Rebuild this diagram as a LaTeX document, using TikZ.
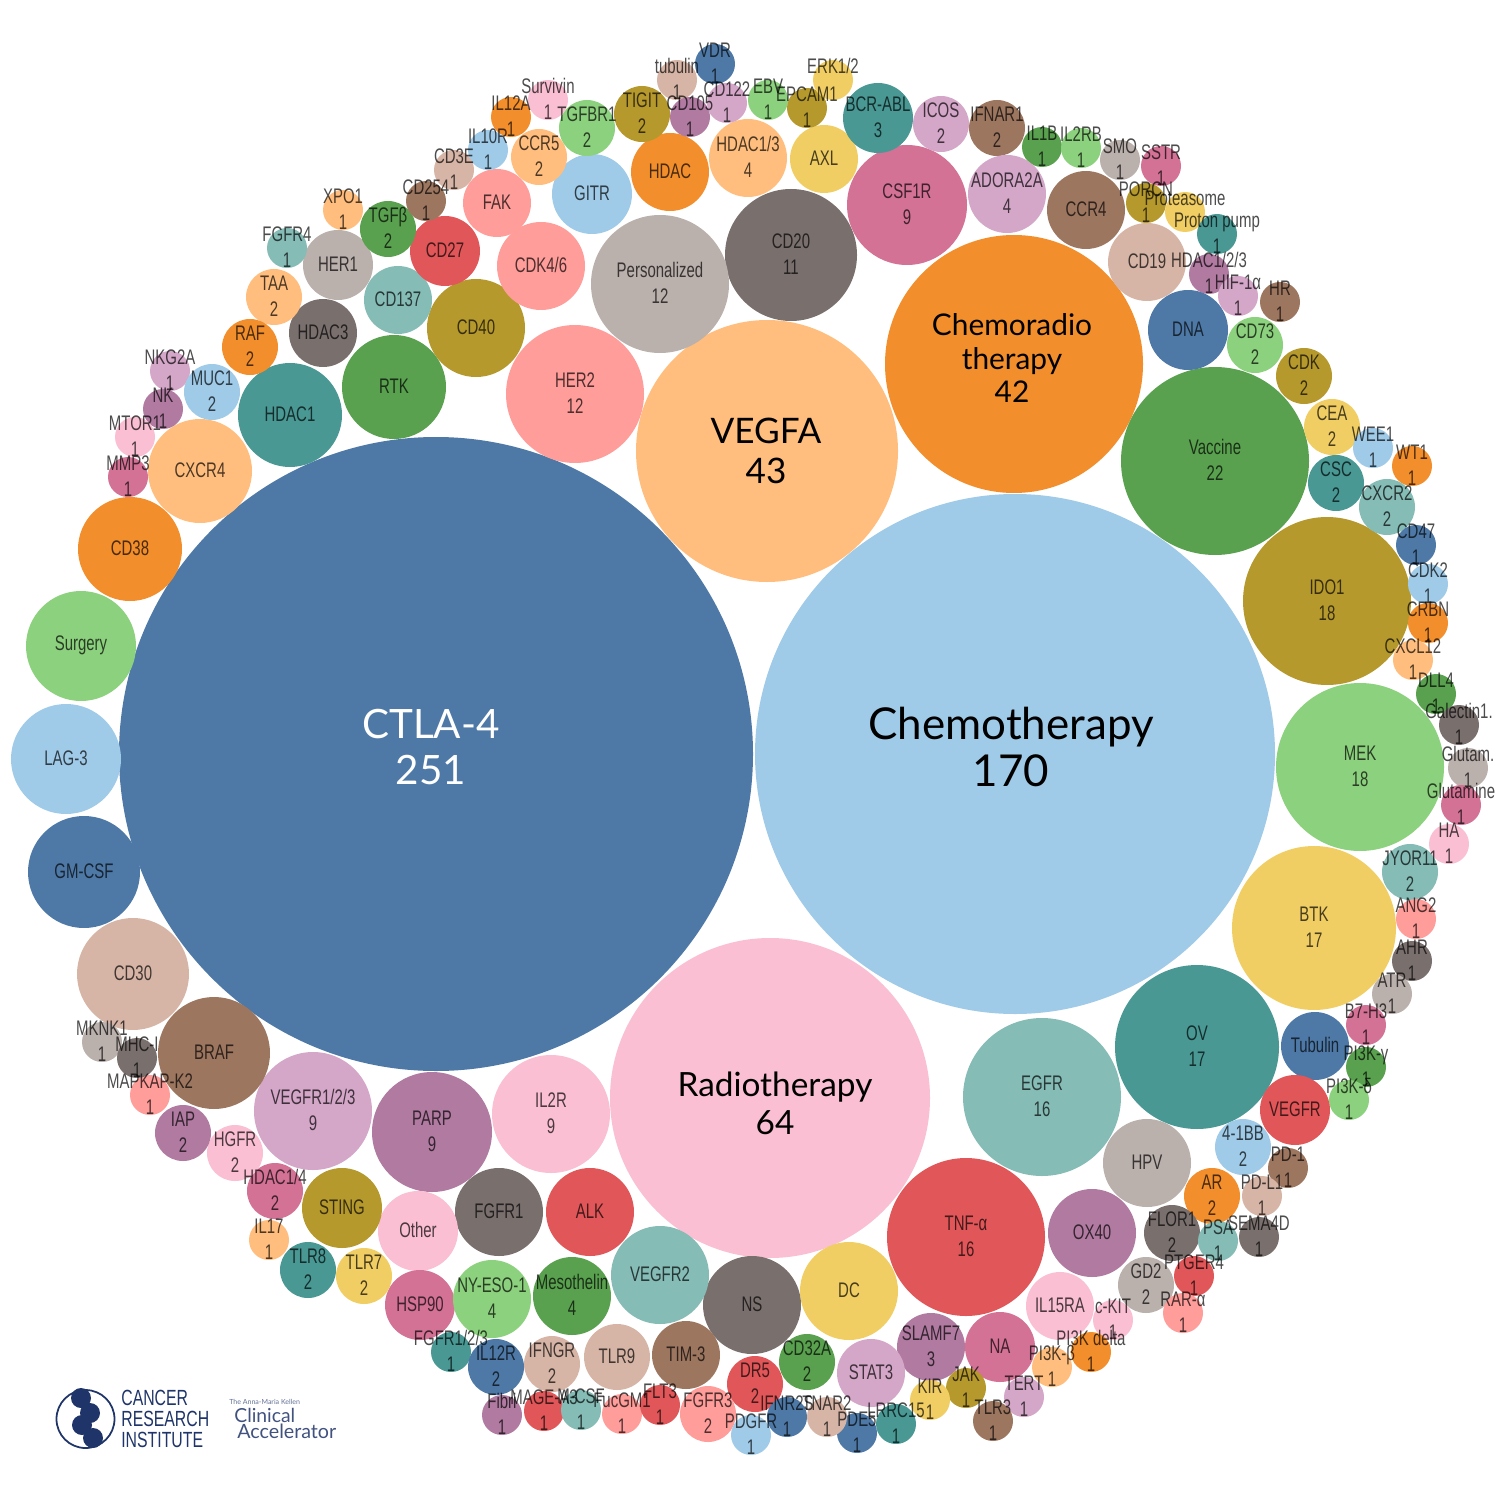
\documentclass[tikz,border=0pt]{standalone}
\usepackage{fontspec}
\setmainfont[FakeStretch=0.71]{Liberation Sans}
\newfontfamily\bigfont{Lato}
\newfontfamily\logofont[FakeStretch=0.72]{Liberation Sans}
\usepackage{tikz}

\definecolor{blue}{HTML}{4E79A7}
\definecolor{ltblue}{HTML}{A0CBE8}
\definecolor{orange}{HTML}{F28E2B}
\definecolor{ltorange}{HTML}{FFBE7D}
\definecolor{green}{HTML}{59A14F}
\definecolor{ltgreen}{HTML}{8CD17D}
\definecolor{olive}{HTML}{B6992D}
\definecolor{yellow}{HTML}{F1CE63}
\definecolor{teal}{HTML}{499894}
\definecolor{ltteal}{HTML}{86BCB6}
\definecolor{red}{HTML}{E15759}
\definecolor{pink}{HTML}{FF9D9A}
\definecolor{grey}{HTML}{79706E}
\definecolor{ltgrey}{HTML}{BAB0AC}
\definecolor{mauve}{HTML}{D37295}
\definecolor{ltmauve}{HTML}{FABFD2}
\definecolor{purple}{HTML}{B07AA1}
\definecolor{ltpurple}{HTML}{D4A6C8}
\definecolor{brown}{HTML}{9D7660}
\definecolor{ltbrown}{HTML}{D7B5A6}
\definecolor{navy}{HTML}{1F3468}

\tikzset{
    lab/.style={font=\fontsize{12}{14.8}\selectfont,align=center,inner sep=0pt,text=black,text opacity=0.7},
    biglab/.style={align=center,inner sep=0pt},
    logotext/.style={font=\logofont\fontsize{12.5}{11.8}\selectfont,align=left,inner sep=0pt,text=navy}
}

% first pass draws the discs, second pass the labels on top of them
\def\bubdisc(#1,#2,#3,#4)#5{\path[fill=#4] (#1,#2) circle (#3);}
\def\bublabel(#1,#2,#3,#4)#5{\node[lab] (lab#1-#2) at (#1,#2-1) {#5};}

\def\bubbles{
    \bub(1215,461,94,green){Vaccine\\22} \bub(1327,601,84,olive){IDO1\\18} \bub(1360,767,84,ltgreen){MEK\\18}
    \bub(1314,928,82,yellow){BTK\\17} \bub(1197,1047,82,teal){OV\\17} \bub(1042,1097,79,ltteal){EGFR\\16}
    \bub(966,1237,79,red){TNF-α\\16} \bub(791,255,66,grey){CD20\\11} \bub(660,284,69,ltgrey){Personalized\\12}
    \bub(575,394,69,pink){HER2\\12} \bub(907,205,60,mauve){CSF1R\\9} \bub(432,1132,60,purple){PARP\\9}
    \bub(313,1111,59,ltpurple){VEGFR1/2/3\\9} \bub(551,1114,59,ltmauve){IL2R\\9}
    \bub(133,974,56,ltbrown){CD30} \bub(214,1053,56,brown){BRAF} \bub(84,872,56,blue){GM-CSF}
    \bub(66,759,55,ltblue){LAG-3} \bub(81,646,55,ltgreen){Surgery} \bub(130,549,52,orange){CD38}
    \bub(200,471,52,ltorange){CXCR4} \bub(290,415,52,teal){HDAC1} \bub(394,387,52,green){RTK}
    \bub(476,328,49,olive){CD40} \bub(398,300,34,ltteal){CD137} \bub(323,333,34,grey){HDAC3}
    \bub(338,265,35,ltgrey){HER1} \bub(445,251,35,red){CD27} \bub(388,229,28,green){TGFβ\\2}
    \bub(343,210,20,ltorange){XPO1\\1} \bub(287,248,20,ltteal){FGFR4\\1} \bub(274,297,28,ltorange){TAA\\2}
    \bub(250,347,28,orange){RAF\\2} \bub(170,371,20,ltpurple){NKG2A\\1} \bub(212,392,28,ltblue){MUC1\\2}
    \bub(163,409,20,purple){NK\\1} \bub(135,437,20,ltmauve){MTOR1\\1} \bub(128,477,20,mauve){MMP3\\1}
    \bub(541,266,44,pink){CDK4/6} \bub(497,203,34,pink){FAK} \bub(592,194,40,ltblue){GITR}
    \bub(670,172,39,orange){HDAC} \bub(748,158,39,ltorange){HDAC1/3\\4} \bub(824,159,34,yellow){AXL}
    \bub(539,157,28,ltorange){CCR5\\2} \bub(587,128,28,ltgreen){TGFBR1\\2} \bub(642,114,28,olive){TIGIT\\2}
    \bub(488,150,20,ltblue){IL10R\\1} \bub(511,117,20,orange){IL12A\\1} \bub(548,100,20,ltmauve){Survivin\\1}
    \bub(454,170,20,ltbrown){CD3E\\1} \bub(426,201,20,brown){CD254\\1} \bub(677,80,20,ltbrown){tubulin\\1}
    \bub(715,64,20,blue){VDR\\1} \bub(690,117,20,purple){CD105\\1} \bub(727,103,20,ltpurple){CD122\\1}
    \bub(768,100,20,ltgreen){EBV\\1} \bub(807,108,20,olive){EPCAM1\\1} \bub(833,80,20,yellow){ERK1/2\\\phantom{1}}
    \bub(878,118,35,teal){BCR-ABL\\3} \bub(941,124,28,ltpurple){ICOS\\2} \bub(997,128,28,brown){IFNAR1\\2}
    \bub(1042,147,20,green){IL1B\\1} \bub(1081,148,20,ltgreen){IL2RB\\1} \bub(1120,160,20,ltgrey){SMO\\1}
    \bub(1161,166,20,mauve){SSTR\\1} \bub(1007,194,39,ltpurple){ADORA2A\\4} \bub(1086,210,39,brown){CCR4}
    \bub(1147,262,39,ltbrown){CD19} \bub(1146,203,20,olive){PORCN\\1} \bub(1185,212,20,yellow){Proteasome\\\phantom{1}}
    \bub(1217,234,20,teal){Proton pump\\1} \bub(1209,274,20,purple){HDAC1/2/3\\1} \bub(1238,296,20,ltpurple){HIF-1α\\1}
    \bub(1280,302,20,brown){HR\\1} \bub(1188,330,40,blue){DNA} \bub(1255,345,28,ltgreen){CD73\\2}
    \bub(1304,376,28,olive){CDK\\2} \bub(1332,427,28,yellow){CEA\\2} \bub(1373,448,20,ltblue){WEE1\\1}
    \bub(1412,466,20,orange){WT1\\1} \bub(1336,483,28,teal){CSC\\2} \bub(1387,507,28,ltteal){CXCR2\\2}
    \bub(1416,545,20,blue){CD47\\1} \bub(1428,584,20,ltblue){CDK2\\1} \bub(1428,623,20,orange){CRBN\\1}
    \bub(1413,660,20,ltorange){CXCL12\\1} \bub(1436,694,20,green){DLL4\\1} \bub(1459,725,20,grey){Galectin1.\\1}
    \bub(1468,768,20,ltgrey){Glutam.\\1} \bub(1461,805,20,mauve){Glutamine\\1} \bub(1449,844,20,ltmauve){HA\\1}
    \bub(1410,872,28,ltteal){JYOR11\\2} \bub(1416,919,20,pink){ANG2\\1} \bub(1412,961,20,grey){AHR\\1}
    \bub(1392,994,20,ltgrey){ATR\\1} \bub(1366,1025,20,mauve){B7-H3\\1} \bub(1315,1046,34,blue){Tubulin}
    \bub(1366,1067,20,green){PI3K-γ\\1} \bub(1349,1100,20,ltgreen){PI3K-δ\\1} \bub(1295,1110,35,red){VEGFR}
    \bub(1243,1147,28,ltblue){4-1BB\\2} \bub(1288,1168,20,brown){PD-1\\1} \bub(1262,1196,20,ltbrown){PD-L1\\1}
    \bub(1147,1163,44,ltgrey){HPV} \bub(1212,1196,28,orange){AR\\2} \bub(1172,1233,28,grey){FLOR1\\2}
    \bub(1218,1241,20,ltteal){PSA\\1} \bub(1259,1237,20,grey){SEMA4D\\1} \bub(1092,1233,44,purple){OX40}
    \bub(1146,1285,28,ltgrey){GD2\\2} \bub(1194,1276,20,red){PTGER4\\1} \bub(1183,1313,20,pink){RAR-α\\1}
    \bub(1060,1306,34,ltmauve){IL15RA} \bub(1113,1320,20,ltmauve){c-KIT\\1} \bub(1091,1352,20,orange){PI3K delta\\1}
    \bub(1052,1367,20,ltorange){PI3K-β\\1} \bub(1000,1347,35,mauve){NA} \bub(931,1347,34,purple){SLAMF7\\3}
    \bub(871,1373,34,ltpurple){STAT3} \bub(1024,1397,20,ltpurple){TERT\\1} \bub(966,1388,20,olive){JAK\\1}
    \bub(930,1400,20,yellow){KIR\\1} \bub(993,1421,20,brown){TLR3\\1} \bub(896,1424,20,teal){LRRC15\\1}
    \bub(857,1433,20,blue){PDE5\\1} \bub(849,1291,49,yellow){DC} \bub(752,1305,49,grey){NS}
    \bub(660,1275,49,ltteal){VEGFR2} \bub(590,1212,44,red){ALK} \bub(499,1212,44,grey){FGFR1}
    \bub(418,1231,40,ltmauve){Other} \bub(342,1208,40,olive){STING} \bub(420,1305,35,mauve){HSP90}
    \bub(492,1299,39,ltgreen){NY-ESO-1\\4} \bub(572,1296,39,green){Mesothelin\\4} \bub(308,1270,28,teal){TLR8\\2}
    \bub(364,1276,28,yellow){TLR7\\2} \bub(269,1240,20,ltorange){IL17\\1} \bub(275,1191,28,mauve){HDAC1/4\\2}
    \bub(235,1153,28,ltmauve){HGFR\\2} \bub(183,1133,28,purple){IAP\\2} \bub(150,1095,20,pink){MAPKAP-K2\\1}
    \bub(102,1042,20,ltgrey){MKNK1\\1} \bub(137,1058,20,grey){MHC-I\\1} \bub(451,1352,20,teal){FGFR1/2/3\\1}
    \bub(496,1367,28,blue){IL12R\\2} \bub(552,1364,28,ltbrown){IFNGR\\2} \bub(617,1357,33,ltbrown){TLR9}
    \bub(686,1355,34,brown){TIM-3} \bub(807,1362,28,green){CD32A\\2} \bub(755,1384,28,red){DR5\\2}
    \bub(708,1414,28,pink){FGFR3\\2} \bub(751,1435,20,ltblue){PDGFR\\1} \bub(787,1417,20,blue){IFNR2S\\1}
    \bub(827,1417,20,ltbrown){TNAR2\\1} \bub(502,1415,20,purple){Fibri\\1} \bub(544,1411,20,red){MAGE-A3\\1}
    \bub(581,1410,20,ltteal){M-CSF\\1} \bub(622,1414,20,pink){FucGM1\\1} \bub(660,1405,20,red){FLT3\\1}
}

\begin{document}
\begin{tikzpicture}[x=0.02cm,y=-0.02cm]
    \useasboundingbox (0,0) rectangle (1500,1500);
    % big ones
    \path[fill=blue] (436,754) circle (317);
    \path[fill=ltblue] (1015,754) circle (260);
    \path[fill=ltmauve] (770,1098) circle (160);
    \path[fill=ltorange] (767,451) circle (131);
    \path[fill=orange] (1014,364) circle (129);
    \let\bub\bubdisc
    \bubbles
    \let\bub\bublabel
    \bubbles
    \node[biglab,text=white,font=\bigfont\fontsize{23}{26.5}\selectfont] (ctla) at (431,747) {CTLA-4\\251};
    \node[biglab,text=black,font=\bigfont\fontsize{25}{26.5}\selectfont] (chemo) at (1011,747) {Chemotherapy\\170};
    \node[biglab,text=black,font=\bigfont\fontsize{19}{21.5}\selectfont] (radio) at (775,1103) {Radiotherapy\\64};
    \node[biglab,text=black,font=\bigfont\fontsize{20}{22.5}\selectfont] (vegfa) at (766,451) {VEGFA\\43};
    \node[biglab,text=black,font=\bigfont\fontsize{17}{19.3}\selectfont] (chemoradio) at (1012,358) {Chemoradio\\therapy\\42};
    % logo
    \draw[navy,line width=1pt] (85.5,1419) circle (29);
    \foreach \bx/\by in {81/1398,90/1413,82/1425,93/1438}
    {
        \path[fill=navy] (\bx,\by) circle (10);
    }
    \node[logotext,anchor=west] (cri) at (121,1419) {CANCER\\RESEARCH\\INSTITUTE};
    \node[inner sep=0pt,anchor=west,text=navy!70,font=\bigfont\fontsize{4}{4}\selectfont] (anna) at (229,1402) {The Anna-Maria Kellen};
    \node[inner sep=0pt,anchor=west,text=navy!85,font=\bigfont\fontsize{11}{11}\selectfont] (clin) at (234,1415) {Clinical};
    \node[inner sep=0pt,anchor=west,text=navy!85,font=\bigfont\fontsize{11.2}{11}\selectfont] (accel) at (237,1431) {Accelerator};
\end{tikzpicture}
\end{document}
